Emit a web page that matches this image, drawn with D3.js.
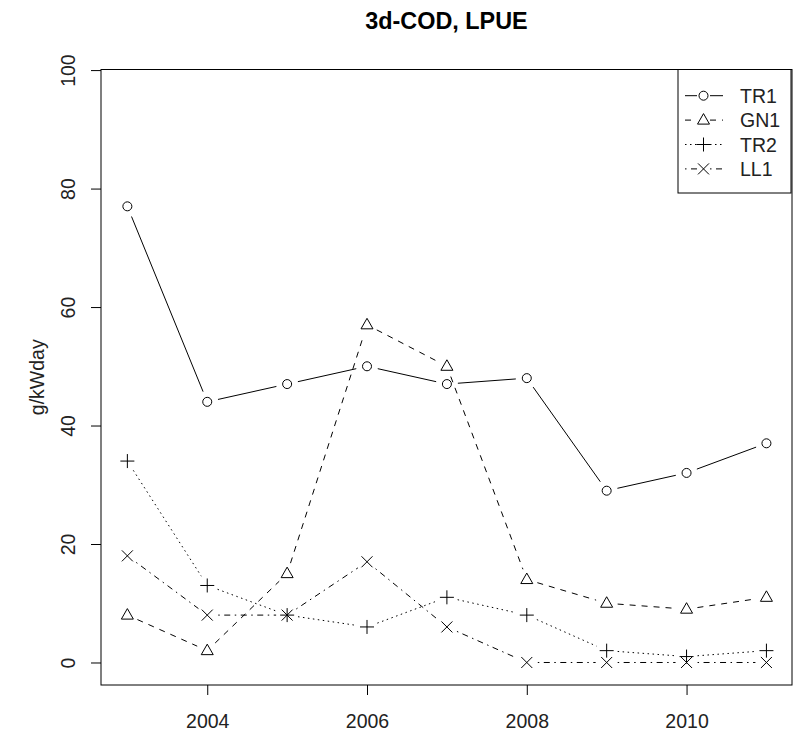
<!DOCTYPE html>
<html>
<head>
<meta charset="utf-8">
<script src="https://cdn.jsdelivr.net/npm/d3@7"></script>
<style>
  html, body { margin: 0; padding: 0; background: #fff; }
  svg { display: block; font-family: "Liberation Sans", Arial, sans-serif; }
</style>
</head>
<body>
<div id="chart"></div>
<script>
const years = [2003, 2004, 2005, 2006, 2007, 2008, 2009, 2010, 2011];
const tr1 = [77, 44, 47, 50, 47, 48, 29, 32, 37];
const gn1 = [8, 2, 15, 57, 50, 14, 10, 9, 11];
const tr2 = [34, 13, 8, 6, 11, 8, 2, 1, 2];
const ll1 = [18, 8, 8, 17, 6, 0, 0, 0, 0];
const seriesNames = ["TR1", "GN1", "TR2", "LL1"];
const xTicks = [2004, 2006, 2008, 2010];
const yTicks = [0, 20, 40, 60, 80, 100];

const width = 795, height = 742;
const margin = {top: 69.5, right: 3, bottom: 57, left: 101};

const svg = d3.select("#chart").append("svg")
  .attr("width", width)
  .attr("height", height);

const x = d3.scaleLinear()
  .domain([2002.67, 2011.32])
  .range([margin.left, width - margin.right]);

const y = d3.scaleLinear()
  .domain([-3.8, 100.1])
  .range([height - margin.bottom, margin.top]);

const styles = [
  {name: seriesNames[0], values: tr1, dash: null, sym: "circle"},
  {name: seriesNames[1], values: gn1, dash: "6,6", sym: "triangle"},
  {name: seriesNames[2], values: tr2, dash: "1.5,3.5", sym: "plus"},
  {name: seriesNames[3], values: ll1, dash: "1.5,4.5,6,4.5", sym: "cross"}
];

// symbol drawers, centred on (0,0)
const drawSym = (g, sym) => {
  if (sym === "circle") {
    g.append("circle").attr("r", 4.5);
  } else if (sym === "triangle") {
    g.append("path").attr("d", "M0,-6.5L6,4L-6,4Z");
  } else if (sym === "plus") {
    g.append("path").attr("d", "M-7,0H7M0,-7V7");
  } else {
    g.append("path").attr("d", "M-5.5,-5.5L5.5,5.5M-5.5,5.5L5.5,-5.5");
  }
};

const gap = 11;
const plot = svg.append("g")
  .attr("fill", "none")
  .attr("stroke", "black")
  .attr("stroke-width", 1);

styles.forEach(s => {
  const pts = years.map((yr, i) => [x(yr), y(s.values[i])]);
  const g = plot.append("g");
  // type "b": segments broken around the points
  d3.pairs(pts).forEach(([a, b]) => {
    const dx = b[0] - a[0], dy = b[1] - a[1];
    const len = Math.hypot(dx, dy);
    if (len <= 2 * gap) return;
    const ux = dx / len, uy = dy / len;
    g.append("line")
      .attr("x1", a[0] + ux * gap).attr("y1", a[1] + uy * gap)
      .attr("x2", b[0] - ux * gap).attr("y2", b[1] - uy * gap)
      .attr("stroke-dasharray", s.dash);
  });
  pts.forEach(p => {
    drawSym(g.append("g").attr("transform", `translate(${p[0]},${p[1]})`), s.sym);
  });
});

// box
svg.append("rect")
  .attr("x", margin.left).attr("y", margin.top)
  .attr("width", width - margin.right - margin.left)
  .attr("height", height - margin.bottom - margin.top)
  .attr("fill", "none").attr("stroke", "black");

// axes
const xAxis = g => g
  .attr("transform", `translate(0,${height - margin.bottom})`)
  .call(d3.axisBottom(x).tickValues(xTicks).tickFormat(d3.format("d")).tickSize(10).tickPadding(19))
  .call(g => g.select(".domain").remove());

const yAxis = g => g
  .attr("transform", `translate(${margin.left},0)`)
  .call(d3.axisLeft(y).tickValues(yTicks).tickSize(10))
  .call(g => g.select(".domain").remove())
  .call(g => g.selectAll(".tick text")
    .attr("x", null).attr("dy", null)
    .attr("text-anchor", "middle")
    .attr("transform", "translate(-26,0) rotate(-90)"));

svg.append("g").call(xAxis)
  .attr("font-size", 19.5).attr("font-family", null);
svg.append("g").call(yAxis)
  .attr("font-size", 19.5).attr("font-family", null);

svg.selectAll(".tick text").attr("fill", "#222");

// title
svg.append("text")
  .attr("x", (margin.left + width - margin.right) / 2)
  .attr("y", 29)
  .attr("text-anchor", "middle")
  .attr("font-weight", "bold")
  .attr("font-size", 23.4)
  .text("3d-COD, LPUE");

// y label
svg.append("text")
  .attr("transform", `translate(44,${(margin.top + height - margin.bottom) / 2}) rotate(-90)`)
  .attr("text-anchor", "middle")
  .attr("font-size", 19.5)
  .attr("fill", "#222")
  .text("g/kWday");

// legend
const lg = svg.append("g");
lg.append("rect")
  .attr("x", 678).attr("y", margin.top)
  .attr("width", 113).attr("height", 123.5)
  .attr("fill", "white").attr("stroke", "black");

const rowY = d3.scaleLinear().domain([0, 1]).range([95.7, 120.1]);
styles.forEach((s, i) => {
  const ry = rowY(i);
  const g = lg.append("g").attr("fill", "none").attr("stroke", "black");
  g.append("line").attr("x1", 685).attr("x2", 697).attr("y1", ry).attr("y2", ry)
    .attr("stroke-dasharray", s.dash);
  g.append("line").attr("x1", 710).attr("x2", 723).attr("y1", ry).attr("y2", ry)
    .attr("stroke-dasharray", s.dash);
  drawSym(g.append("g").attr("transform", `translate(703.5,${ry})`), s.sym);
  lg.append("text")
    .attr("x", 740).attr("y", ry + 7)
    .attr("font-size", 19.5)
    .attr("fill", "#222")
    .text(s.name);
});
</script>
</body>
</html>
